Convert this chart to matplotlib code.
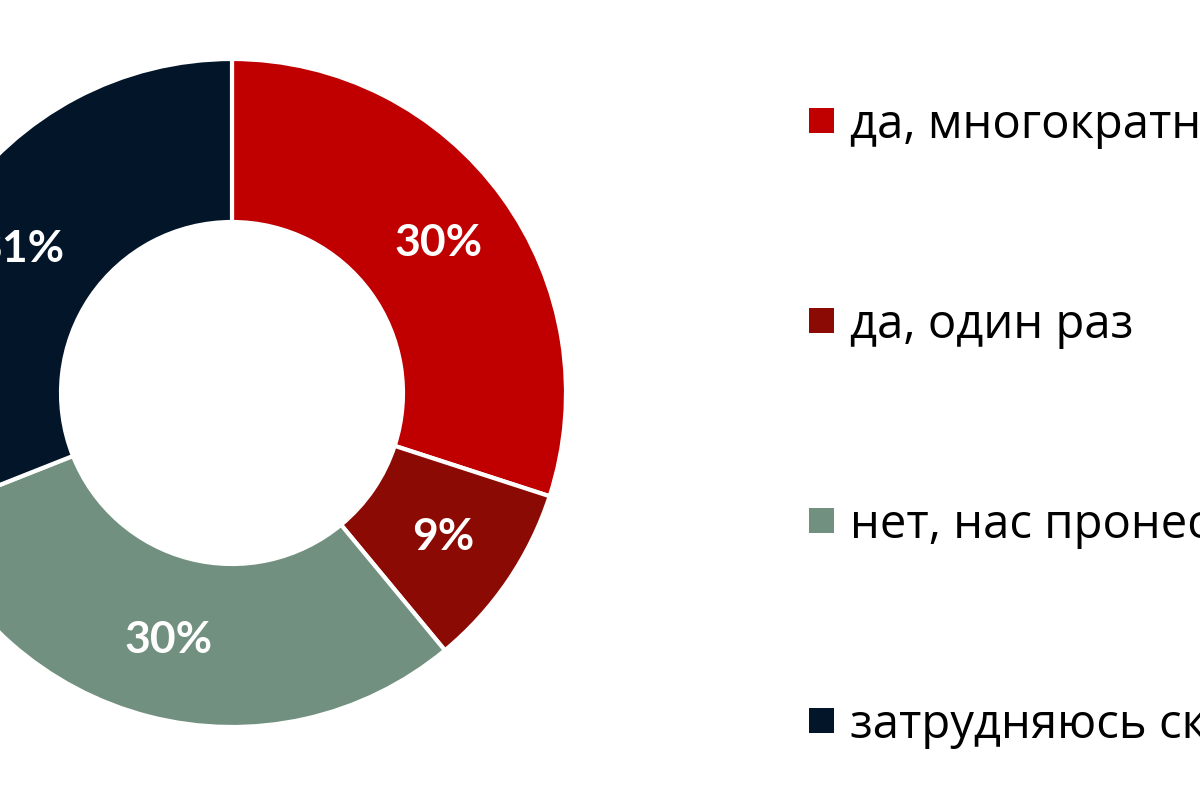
import matplotlib
matplotlib.use('Agg')
import matplotlib.pyplot as plt
from matplotlib.patches import Rectangle

# survey answers and shares (%)
labels = ['да, многократно', 'да, один раз', 'нет, нас пронесло', 'затрудняюсь сказать']
values = [30, 9, 30, 31]
colors = ['#C00000', '#8C0A04', '#71907F', '#031629']

fig = plt.figure(figsize=(12, 8), dpi=100)
ax = fig.add_axes([0, 0, 1, 1])
ax.set_xlim(0, 1200)
ax.set_ylim(0, 800)
ax.set_aspect('equal')
ax.axis('off')

wedges, texts, autotexts = ax.pie(
    values, colors=colors, startangle=90, counterclock=False,
    center=(232, 407), radius=334, autopct='%d%%', pctdistance=0.765,
    wedgeprops=dict(width=163, edgecolor='white', linewidth=3),
    textprops=dict(color='white', fontsize=32, fontweight='bold',
                   family=['Lato', 'DejaVu Sans']))
ax.set_xlim(0, 1200)
ax.set_ylim(0, 800)

# legend drawn by hand so it can run off the right edge like the original
for i, (lab, col) in enumerate(zip(labels, colors)):
    y = 679 - i * 200
    ax.add_patch(Rectangle((809, y - 12), 25, 25, facecolor=col, edgecolor='none'))
    ax.text(850, y - 4, lab, fontsize=34, color='black', va='center', ha='left',
            family=['Open Sans', 'DejaVu Sans'], clip_on=False)

fig.savefig('out.png', dpi=100)
